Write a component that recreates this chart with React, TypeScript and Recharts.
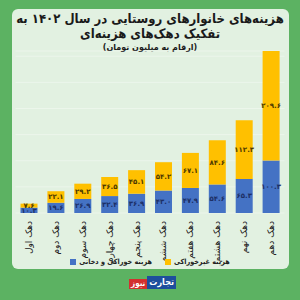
import React from "react";
import { BarChart, Bar, XAxis, YAxis, CartesianGrid, LabelList } from "recharts";

const deciles = ["دهک اول", "دهک دوم", "دهک سوم", "دهک چهارم", "دهک پنجم", "دهک ششم", "دهک هفتم", "دهک هشتم", "دهک نهم", "دهک دهم"];
const foodCost = [10.3, 19.6, 26.9, 32.4, 36.9, 43.0, 47.9, 54.6, 65.3, 100.3];
const nonFoodCost = [7.6, 22.1, 29.2, 36.5, 45.1, 54.2, 67.1, 84.6, 112.3, 209.6];
const yTicks = [0, 50, 100, 150, 200, 250, 300];

const data = deciles.map((d, i) => ({ name: d, food: foodCost[i], nonFood: nonFoodCost[i] }));

const FONT = "'DejaVu Sans', 'Noto Sans', sans-serif";
const CFONT = "'DejaVu Sans Condensed', 'DejaVu Sans', sans-serif";
const toFa = (v: number) =>
  v.toFixed(1).replace(/[0-9]/g, (c) => "۰۱۲۳۴۵۶۷۸۹"[Number(c)]);

const Tick = (props: any) => {
  const { x, y, payload } = props;
  return (
    <text
      x={x}
      y={y}
      transform={`rotate(-90, ${x}, ${y})`}
      textAnchor="end"
      dominantBaseline="central"
      fontSize={9}
      fontFamily={FONT}
      fill="#222"
    >
      {payload.value}
    </text>
  );
};

export default function App() {
  return (
    <div style={{ position: "absolute", left: 0, top: 0, width: 300, height: 300, background: "#5cb262", overflow: "hidden", fontFamily: FONT }}>
      <div style={{ position: "absolute", left: 12, top: 9, width: 277, height: 260, background: "#e2f1e1", borderRadius: 6 }} />
      <div dir="rtl" style={{ position: "absolute", left: 0, top: 11, width: 300, textAlign: "center", fontSize: 13, fontWeight: "bold", color: "#1a1a1a", lineHeight: "15px", whiteSpace: "nowrap", fontFamily: CFONT }}>
        هزینه‌های خانوارهای روستایی در سال ۱۴۰۲ به
        <br />
        تفکیک دهک‌های هزینه‌ای
      </div>
      <div dir="rtl" style={{ position: "absolute", left: 0, top: 42, width: 300, textAlign: "center", fontSize: 8, fontWeight: "bold", color: "#1a1a1a", lineHeight: "12px", whiteSpace: "nowrap" }}>
        (ارقام به میلیون تومان)
      </div>
      <div style={{ position: "absolute", left: 0, top: 0 }}>
        <BarChart width={300} height={300} data={data} margin={{ top: 51, right: 15.5, left: 15.5, bottom: 55 }}>
          <CartesianGrid vertical={false} stroke="#ffffff" strokeOpacity={0.35} />
          <YAxis hide domain={[0, 310]} ticks={yTicks} width={0} />
          <XAxis dataKey="name" axisLine={false} tickLine={false} height={32} interval={0} tick={<Tick />} tickMargin={2} />
          <Bar dataKey="food" stackId="a" fill="#4472c4" barSize={17} isAnimationActive={false}>
            <LabelList dataKey="food" position="center" formatter={(v: any) => toFa(Number(v))} fontSize={7} fontWeight="bold" fontFamily={FONT} fill="#1c2f66" />
          </Bar>
          <Bar dataKey="nonFood" stackId="a" fill="#ffc000" barSize={17} isAnimationActive={false}>
            <LabelList dataKey="nonFood" position="center" formatter={(v: any) => toFa(Number(v))} fontSize={7} fontWeight="bold" fontFamily={FONT} fill="#4d3a00" />
          </Bar>
        </BarChart>
      </div>
      <div dir="rtl" style={{ position: "absolute", left: 0, top: 257, width: 300, display: "flex", justifyContent: "center", alignItems: "center", fontSize: 7.2, fontWeight: "bold", color: "#222", gap: 13, whiteSpace: "nowrap", fontFamily: CFONT }}>
        <span style={{ display: "flex", alignItems: "center", gap: 3 }}>
          <span>هزینه غیرخوراکی</span>
          <span style={{ width: 6, height: 6, background: "#ffc000", display: "inline-block" }} />
        </span>
        <span style={{ display: "flex", alignItems: "center", gap: 3 }}>
          <span>هزینه خوراکی و دخانی</span>
          <span style={{ width: 6, height: 6, background: "#4472c4", display: "inline-block" }} />
        </span>
      </div>
      <div style={{ position: "absolute", left: 129, top: 276, display: "flex", alignItems: "flex-end", whiteSpace: "nowrap" }}>
        <div style={{ background: "#d32f2f", color: "#fff", fontSize: 8, fontWeight: "bold", height: 10, lineHeight: "10px", padding: "0 2px", fontFamily: CFONT }}>نیوز</div>
        <div style={{ background: "#1e4e9c", color: "#fff", fontSize: 9, fontWeight: "bold", height: 13, lineHeight: "13px", padding: "0 2px", fontFamily: CFONT }}>تجارت</div>
      </div>
    </div>
  );
}
